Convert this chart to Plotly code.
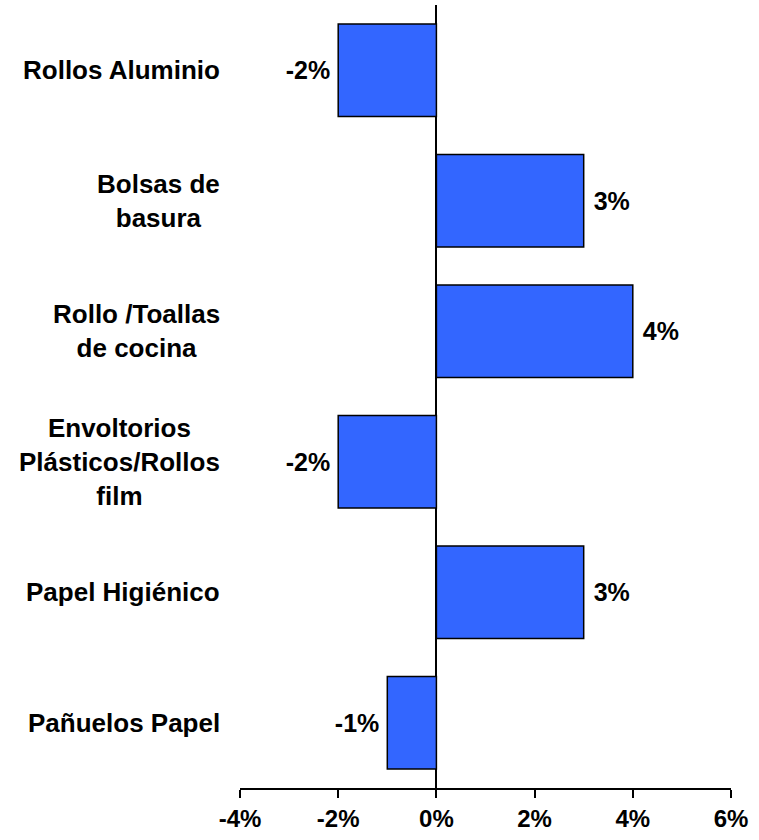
import plotly.graph_objects as go

categories = ["Rollos Aluminio", "Bolsas de<br>basura", "Rollo /Toallas<br>de cocina",
              "Envoltorios<br>Plásticos/Rollos<br>film", "Papel Higiénico", "Pañuelos Papel"]
values = [-2, 3, 4, -2, 3, -1]
tick_vals = [-4, -2, 0, 2, 4, 6]
tick_text = ["-4%", "-2%", "0%", "2%", "4%", "6%"]

FONT = "Liberation Sans, Arial, sans-serif"
ypos = list(range(len(categories)))

labels = [f" {v}%" if v > 0 else f"{v}%\u2009" for v in values]

fig = go.Figure(go.Bar(
    x=values, y=ypos, orientation="h",
    marker=dict(color="#3366FF", line=dict(color="black", width=1.5)),
    width=0.71,
    text=labels, textposition="outside",
    constraintext="none", cliponaxis=False,
    textfont=dict(family=FONT, size=25, color="black", weight="bold"),
))

for i, c in enumerate(categories):
    fig.add_annotation(x=-0.037, xref="paper", y=i, yref="y", text=c,
                       xanchor="right", yanchor="middle", align="center", showarrow=False,
                       font=dict(family=FONT, size=26, color="black", weight="bold"))

fig.update_layout(
    width=759, height=840, paper_bgcolor="white", plot_bgcolor="white",
    margin=dict(l=240, r=28, t=5, b=52, autoexpand=False), showlegend=False,
    xaxis=dict(range=[-4, 6], tickvals=tick_vals, ticktext=tick_text, automargin=False,
               showgrid=False, showline=True, linecolor="black", linewidth=1.5,
               ticks="outside", ticklen=8, tickwidth=1.5, tickcolor="black",
               ticklabelstandoff=0,
               zeroline=True, zerolinecolor="black", zerolinewidth=1.5,
               tickfont=dict(family=FONT, size=24, color="black", weight="bold")),
    yaxis=dict(range=[len(categories) - 0.5, -0.5], showticklabels=False, showgrid=False,
               automargin=False, zeroline=False, showline=False, ticks=""),
)

fig.write_html("out.html", config={"displayModeBar": False},
               post_script="document.body.style.margin='0';")
